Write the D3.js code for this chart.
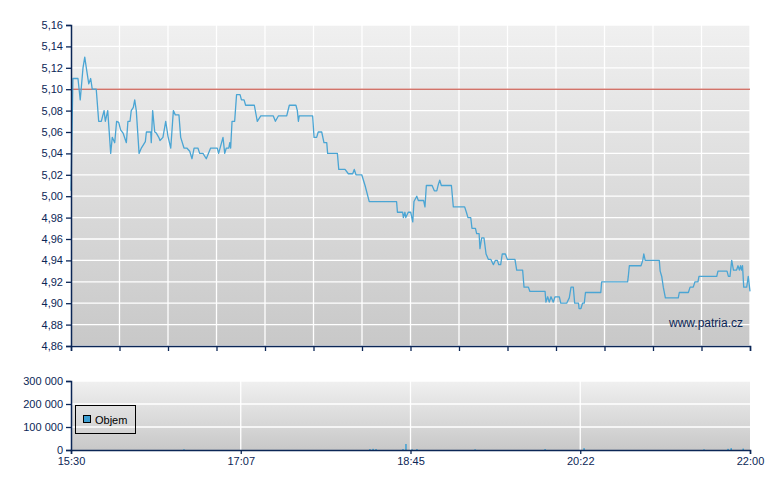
<!DOCTYPE html>
<html><head><meta charset="utf-8">
<script src="https://cdn.jsdelivr.net/npm/d3@7/dist/d3.min.js"></script>
<style>body{margin:0;background:#fff;}svg{display:block;font-family:"Liberation Sans",Arial,sans-serif;}</style>
</head><body>
<svg id="c" width="780" height="490"></svg>
<script>
// minutes after 15:30
const priceTimes = [0,1.1,4.0,5.3,6.9,7.9,8.8,10.2,11.3,12.2,13.6,14.5,15.9,17.4,18.2,19.0,19.7,21.1,21.7,22.8,23.7,25.1,26.2,27.4,28.5,29.9,31.8,32.7,33.9,34.6,35.8,36.6,37.5,39.1,40.4,42.7,43.3,45.8,46.1,46.9,48.1,49.0,50.4,51.1,52.8,54.4,55.7,57.3,58.8,59.9,62.0,63.0,64.9,66.5,68.2,69.5,70.7,72.9,73.9,75.8,77.7,80.2,84.0,84.8,87.3,88.3,89.2,90.6,91.2,91.7,92.5,94.0,95.1,97.1,97.9,99.4,100.3,105.3,107.0,109.0,116.2,117.4,119.1,123.9,125.4,129.2,130.0,130.6,131.1,138.8,139.6,141.1,142.0,144.0,145.3,146.9,147.4,153.0,153.8,157.4,159.3,161.8,162.7,163.7,167.0,168.9,171.3,187.0,187.5,190.5,190.9,191.8,192.3,193.7,195.1,196.3,197.0,198.6,199.5,202.5,203.3,204.1,207.4,208.7,210.1,211.0,211.8,212.7,218.5,219.6,226.1,227.1,228.0,229.6,230.3,232.3,233.0,234.4,234.9,235.9,237.2,238.4,239.7,241.1,242.6,243.7,244.9,245.7,246.8,247.7,249.5,250.6,255.0,256.0,259.4,260.2,262.7,263.6,272.3,272.8,273.8,274.7,275.7,277.0,278.0,280.5,281.3,284.7,286.2,287.2,288.5,289.3,291.5,291.8,292.9,293.8,294.8,295.5,304.3,304.8,319.7,320.1,320.7,327.4,328.4,329.0,329.8,337.9,338.4,339.3,340.2,341.4,348.8,349.4,354.6,355.6,357.4,358.4,360.1,360.7,370.9,371.6,376.8,377.6,378.5,379.5,380.5,382.3,383.1,383.9,384.6,385.1,385.7,386.4,388.1,389.0,390.0];
const priceValues = [5.005,5.11,5.11,5.09,5.12,5.13,5.12,5.105,5.11,5.10,5.10,5.10,5.07,5.07,5.075,5.08,5.07,5.08,5.066,5.04,5.055,5.05,5.07,5.069,5.062,5.059,5.05,5.07,5.07,5.08,5.083,5.09,5.08,5.04,5.045,5.051,5.06,5.06,5.05,5.08,5.06,5.059,5.055,5.052,5.055,5.07,5.056,5.045,5.08,5.076,5.076,5.055,5.045,5.045,5.042,5.035,5.045,5.045,5.04,5.04,5.035,5.045,5.045,5.04,5.055,5.04,5.045,5.045,5.05,5.045,5.07,5.07,5.095,5.095,5.09,5.09,5.085,5.085,5.07,5.075,5.075,5.07,5.075,5.075,5.085,5.085,5.08,5.07,5.075,5.075,5.055,5.055,5.06,5.06,5.05,5.05,5.04,5.04,5.025,5.025,5.021,5.021,5.025,5.02,5.02,5.01,4.995,4.995,4.985,4.985,4.98,4.985,4.98,4.985,4.985,4.976,4.995,5.0,4.996,4.996,4.99,5.01,5.01,5.005,5.005,5.011,5.015,5.01,5.01,4.99,4.99,4.985,4.98,4.98,4.97,4.97,4.965,4.965,4.951,4.961,4.961,4.946,4.941,4.941,4.936,4.94,4.94,4.936,4.936,4.946,4.946,4.941,4.941,4.931,4.931,4.915,4.915,4.911,4.911,4.901,4.906,4.901,4.906,4.901,4.906,4.906,4.90,4.90,4.905,4.915,4.915,4.90,4.90,4.895,4.895,4.90,4.90,4.91,4.91,4.92,4.92,4.925,4.935,4.935,4.94,4.946,4.94,4.94,4.93,4.925,4.915,4.905,4.905,4.91,4.91,4.915,4.915,4.92,4.92,4.925,4.925,4.93,4.93,4.925,4.925,4.94,4.931,4.931,4.935,4.931,4.935,4.931,4.935,4.915,4.915,4.925,4.911];
const volumeTimes = [64.9,171.7,173.5,175.2,190.7,192.4,195.9,198.7,232.1,272.3,294.7,363.6,377.4,379.2,386.1];
const volumeValues = [3000,4000,5000,4000,4000,26000,3000,4000,3000,4000,8000,3000,5000,8000,6000];
const priceTicks = [4.86,4.88,4.90,4.92,4.94,4.96,4.98,5.00,5.02,5.04,5.06,5.08,5.10,5.12,5.14,5.16];
const volumeTicks = [0,100000,200000,300000];
const timeLabels = ["15:30","17:07","18:45","20:22","22:00"];
const referencePrice = 5.10;
const legendLabel = "Objem";
const watermark = "www.patria.cz";

const svg = d3.select("#c");
const navy = "#0b2656";
const blue = "#4aa5d4";
const L = 71, R = 750;
const x = d3.scaleLinear().domain([0,390]).range([L,R]);
const yP = d3.scaleLinear().domain([4.86,5.16]).range([346,25]);
const yV = d3.scaleLinear().domain([0,300000]).range([450,381]);

const defs = svg.append("defs");
const g1 = defs.append("linearGradient").attr("id","bg").attr("x1",0).attr("y1",0).attr("x2",0).attr("y2",1);
g1.append("stop").attr("offset","0%").attr("stop-color","#f0f0f0");
g1.append("stop").attr("offset","100%").attr("stop-color","#c8c8c8");

// ---- price panel
svg.append("rect").attr("x",L).attr("y",yP(5.16)).attr("width",R-L).attr("height",yP(4.86)-yP(5.16)).attr("fill","url(#bg)");
const gridStep = 390/14;
const vTicks = d3.range(15).map(i=>i*gridStep);
svg.append("g").selectAll("line").data(priceTicks).join("line")
  .attr("x1",L).attr("x2",R).attr("y1",d=>yP(d)).attr("y2",d=>yP(d))
  .attr("stroke","#fff").attr("stroke-width",1.3);
svg.append("g").selectAll("line").data(vTicks.slice(1)).join("line")
  .attr("x1",d=>x(d)).attr("x2",d=>x(d)).attr("y1",yP(5.16)).attr("y2",yP(4.86))
  .attr("stroke","#fff").attr("stroke-width",1.3);
svg.append("line").attr("x1",L).attr("x2",R).attr("y1",yP(referencePrice)).attr("y2",yP(referencePrice))
  .attr("stroke","#c0392b").attr("stroke-width",1);
const line = d3.line().x((d,i)=>x(priceTimes[i])).y(d=>yP(d));
svg.append("path").attr("d",line(priceValues)).attr("fill","none").attr("stroke",blue).attr("stroke-width",1.3).attr("stroke-linejoin","round");

const fmtP = d => d3.format(".2f")(d).replace(".",",");
const ax1 = svg.append("g").attr("transform",`translate(${L},0)`)
  .call(d3.axisLeft(yP).tickValues(priceTicks).tickFormat(fmtP).tickSize(5).tickPadding(3));
const ax2 = svg.append("g").attr("transform",`translate(0,${yP(4.86)})`)
  .call(d3.axisBottom(x).tickValues(vTicks).tickFormat("").tickSize(5));
[ax1,ax2].forEach(a=>{a.select(".domain").attr("stroke",navy).attr("stroke-width",1.5);
  a.selectAll(".tick line").attr("stroke",navy).attr("stroke-width",1.3);
  a.selectAll("text").attr("fill",navy).attr("font-size",11).attr("font-family","Liberation Sans, Arial, sans-serif");});

svg.append("text").attr("x",743).attr("y",327).attr("text-anchor","end").attr("fill",navy)
  .attr("font-size",12).text(watermark);

// ---- volume panel
svg.append("rect").attr("x",L).attr("y",yV(300000)).attr("width",R-L).attr("height",yV(0)-yV(300000)).attr("fill","url(#bg)");
const labelTimes = d3.range(5).map(i=>i*97.5);
svg.append("g").selectAll("line").data(volumeTicks.slice(1)).join("line")
  .attr("x1",L).attr("x2",R).attr("y1",d=>yV(d)).attr("y2",d=>yV(d))
  .attr("stroke","#fff").attr("stroke-width",1.3);
svg.append("g").selectAll("line").data(labelTimes.slice(1,4)).join("line")
  .attr("x1",d=>x(d)).attr("x2",d=>x(d)).attr("y1",yV(300000)).attr("y2",yV(0))
  .attr("stroke","#fff").attr("stroke-width",1.3);
svg.append("g").selectAll("rect").data(volumeValues).join("rect")
  .attr("x",(d,i)=>x(volumeTimes[i])-0.75).attr("width",1.5)
  .attr("y",d=>yV(d)).attr("height",d=>yV(0)-yV(d)).attr("fill","#3d9fd3");

const fmtV = d => d3.format(",")(d).replace(/,/g," ");
const ax3 = svg.append("g").attr("transform",`translate(${L},0)`)
  .call(d3.axisLeft(yV).tickValues(volumeTicks).tickFormat(fmtV).tickSize(5).tickPadding(3));
const ax4 = svg.append("g").attr("transform",`translate(0,${yV(0)})`)
  .call(d3.axisBottom(x).tickValues(labelTimes).tickFormat((d,i)=>timeLabels[i]).tickSize(4).tickPadding(3));
[ax3,ax4].forEach(a=>{a.select(".domain").attr("stroke",navy).attr("stroke-width",1.5);
  a.selectAll(".tick line").attr("stroke",navy).attr("stroke-width",1.3);
  a.selectAll("text").attr("fill",navy).attr("font-size",11).attr("font-family","Liberation Sans, Arial, sans-serif");});

// legend
const lg = svg.append("g");
lg.append("rect").attr("x",75.5).attr("y",405.5).attr("width",60).attr("height",28).attr("fill","none").attr("stroke","#000").attr("stroke-width",1);
lg.append("rect").attr("x",83.5).attr("y",415.5).attr("width",7).attr("height",7).attr("fill","#3d9fd3").attr("stroke","#000").attr("stroke-width",1);
lg.append("text").attr("x",95).attr("y",424).attr("font-size",11).attr("fill","#000").text(legendLabel);
</script>
</body></html>
